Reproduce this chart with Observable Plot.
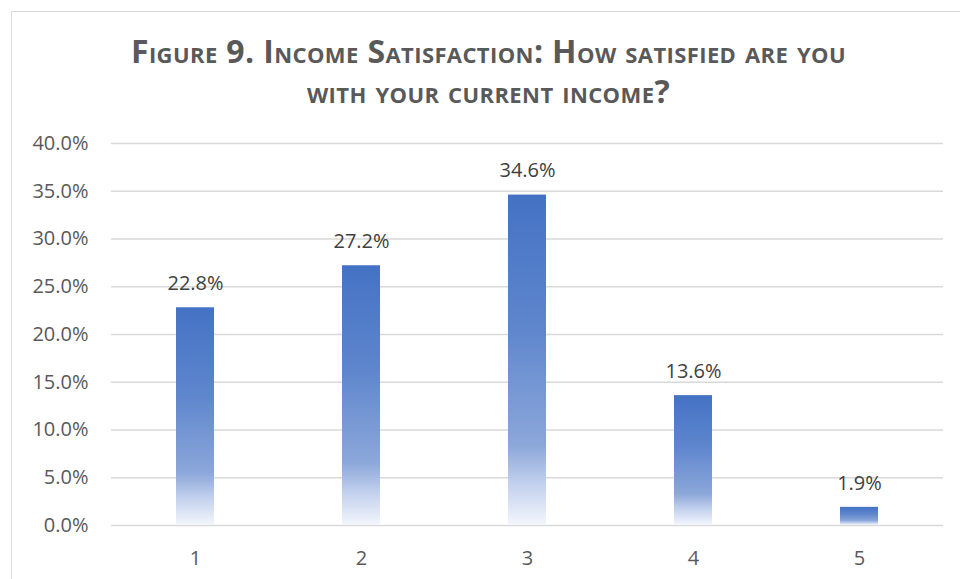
<!DOCTYPE html>
<html>
<head>
<meta charset="utf-8">
<script src="https://cdn.jsdelivr.net/npm/d3@7"></script>
<script src="https://cdn.jsdelivr.net/npm/@observablehq/plot@0.6"></script>
<style>
  html, body { margin: 0; padding: 0; background: #fff; }
  #wrap { position: relative; width: 960px; height: 579px; overflow: hidden; }
  #frame { position: absolute; left: 11px; top: 11px; width: 1000px; height: 700px; border: 1px solid #d9d9d9; box-sizing: border-box; }
  #title { position: absolute; left: 11px; width: 955px; top: 31px; text-align: center;
    font-family: "Liberation Sans Narrow", "Open Sans", sans-serif; font-weight: bold; font-variant: small-caps;
    font-size: 32px; line-height: 40px; color: #595959; letter-spacing: 0.4px; }
  #chart { position: absolute; left: 0; top: 0; }
</style>
</head>
<body>
<div id="wrap">
  <div id="frame"></div>
  <div id="title">Figure 9. Income Satisfaction: How satisfied are you<br>with your current income?</div>
  <div id="chart"></div>
</div>
<script>
const categories = ["1", "2", "3", "4", "5"];
const values = [22.8, 27.2, 34.6, 13.6, 1.9];
const yTicks = [0, 5, 10, 15, 20, 25, 30, 35, 40];

const data = categories.map((c, i) => ({cat: c, value: values[i]}));

const plot = Plot.plot({
  width: 960,
  height: 579,
  marginLeft: 111,
  marginRight: 17,
  marginTop: 143,
  marginBottom: 54,
  style: {fontFamily: "'Open Sans', sans-serif", fontSize: "20px", color: "#595959", background: "transparent"},
  x: {domain: categories, paddingInner: 0.772, paddingOuter: 0.386, label: null},
  y: {domain: [0, 40], label: null},
  marks: [
    Plot.ruleY(yTicks, {stroke: "#d9d9d9", strokeWidth: 1.3}),
    Plot.barY(data, {x: "cat", y: "value", fill: "url(#barGrad)"}),
    Plot.text(data, {x: "cat", y: "value", text: d => d.value.toFixed(1) + "%", dy: -24, fill: "#404040", fontSize: 20}),
    Plot.axisY({ticks: yTicks, tickSize: 0, tickPadding: 23, tickFormat: d => d.toFixed(1) + "%", fill: "#595959", fontSize: 20, label: null}),
    Plot.axisX({tickSize: 0, tickPadding: 25, fill: "#595959", fontSize: 20, label: null})
  ]
});

const svg = d3.select(plot);
const defs = svg.insert("defs", ":first-child");
const grad = defs.append("linearGradient").attr("id", "barGrad")
  .attr("x1", 0).attr("y1", 0).attr("x2", 0).attr("y2", 1);
[["0%", "#4472C4"], ["40%", "#5E86CD"], ["76%", "#8CA7DA"], ["88%", "#C4D2EE"], ["100%", "#F3F6FC"]]
  .forEach(([o, c]) => grad.append("stop").attr("offset", o).attr("stop-color", c));

document.getElementById("chart").appendChild(plot);
</script>
</body>
</html>
